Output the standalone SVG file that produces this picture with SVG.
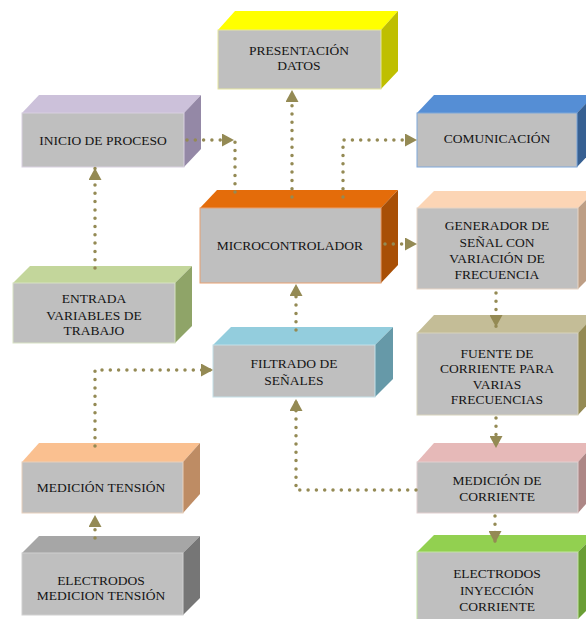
<svg xmlns="http://www.w3.org/2000/svg" width="586" height="619" viewBox="0 0 586 619" font-family="'Liberation Serif', 'Times New Roman', 'DejaVu Serif', serif">
<style>
.front{fill:#BFBFBF;stroke-width:1}
text{font-family:'Liberation Serif','Times New Roman','DejaVu Serif',serif;font-size:13.5px;fill:#141414;text-anchor:middle}
.c{fill:none;stroke:#948A54;stroke-width:3.5;stroke-linecap:round;stroke-dasharray:0 8.3}
</style>
<defs>
<marker id="ah" markerUnits="userSpaceOnUse" markerWidth="13" markerHeight="13" refX="12" refY="6.5" orient="auto">
<path d="M0,0 L12,6.5 L0,13 z" fill="#948A54"/>
</marker>
</defs>
<rect width="586" height="619" fill="#fff"/>

<g id="presentacion">
<polygon points="218,30 235,11 398,11 381,30" fill="#FFFF00"/>
<polygon points="381,30 398,11 398,71 381,89" fill="#BFBF00"/>
<rect class="front" x="218" y="30" width="163" height="59" stroke="#E6E6A0"/>
<text x="299" y="55">PRESENTACIÓN</text>
<text x="299" y="70">DATOS</text>
</g>

<g id="inicio">
<polygon points="22,113 39,95 201,95 184,113" fill="#CCC1DA"/>
<polygon points="184,113 201,95 201,149 184,167" fill="#9488A6"/>
<rect class="front" x="22" y="113" width="162" height="54" stroke="#D8D0E0"/>
<text x="103" y="145">INICIO DE PROCESO</text>
</g>

<g id="comunicacion">
<polygon points="417,113 434,95 594,95 577,113" fill="#558ED5"/>
<polygon points="577,113 594,95 594,149 577,167" fill="#376092"/>
<rect class="front" x="417" y="113" width="160" height="54" stroke="#7FA7DA"/>
<text x="497" y="143">COMUNICACIÓN</text>
</g>

<g id="microcontrolador">
<polygon points="200,208 217,190 398,190 381,208" fill="#E46C0A"/>
<polygon points="381,208 398,190 398,265 381,283" fill="#A84F06"/>
<rect class="front" x="200" y="208" width="181" height="75" stroke="#E8A070"/>
<text x="290" y="250">MICROCONTROLADOR</text>
</g>

<g id="generador">
<polygon points="417,208 434,191 595,191 578,208" fill="#FCD5B5"/>
<polygon points="578,208 595,191 595,272 578,289" fill="#BD9E85"/>
<rect class="front" x="417" y="208" width="161" height="81" stroke="#E8D5C5"/>
<text x="497" y="230">GENERADOR  DE</text>
<text x="497" y="247">SEÑAL CON</text>
<text x="497" y="263">VARIACIÓN DE</text>
<text x="497" y="279">FRECUENCIA</text>
</g>

<g id="entrada">
<polygon points="13,283 30,266 192,266 175,283" fill="#C3D69B"/>
<polygon points="175,283 192,266 192,326 175,343" fill="#8FA468"/>
<rect class="front" x="13" y="283" width="162" height="60" stroke="#D8E2C4"/>
<text x="94" y="303">ENTRADA</text>
<text x="94" y="320">VARIABLES DE</text>
<text x="94" y="335">TRABAJO</text>
</g>

<g id="filtrado">
<polygon points="213,345 231,327 393,327 375,345" fill="#93CDDD"/>
<polygon points="375,345 393,327 393,379 375,397" fill="#6699A8"/>
<rect class="front" x="213" y="345" width="162" height="52" stroke="#C4E0E8"/>
<text x="294" y="368">FILTRADO DE</text>
<text x="294" y="385">SEÑALES</text>
</g>

<g id="fuente">
<polygon points="417,333 434,315 595,315 578,333" fill="#C4BD97"/>
<polygon points="578,333 595,315 595,397 578,415" fill="#948A54"/>
<rect class="front" x="417" y="333" width="161" height="82" stroke="#D8D3BC"/>
<text x="497" y="358">FUENTE DE</text>
<text x="497" y="373">CORRIENTE PARA</text>
<text x="497" y="389">VARIAS</text>
<text x="497" y="404">FRECUENCIAS</text>
</g>

<g id="medicion_tension">
<polygon points="22,462 39,443 200,443 183,462" fill="#FAC090"/>
<polygon points="183,462 200,443 200,494 183,513" fill="#BE8C64"/>
<rect class="front" x="22" y="462" width="161" height="51" stroke="#E8D0BC"/>
<text x="101" y="492">MEDICIÓN TENSIÓN</text>
</g>

<g id="medicion_corriente">
<polygon points="417,462 434,443 595,443 578,462" fill="#E6B9B8"/>
<polygon points="578,462 595,443 595,494 578,513" fill="#AD8786"/>
<rect class="front" x="417" y="462" width="161" height="51" stroke="#E2CFCF"/>
<text x="497" y="485">MEDICIÓN DE</text>
<text x="497" y="501">CORRIENTE</text>
</g>

<g id="electrodos_medicion">
<polygon points="22,553 39,536 200,536 183,553" fill="#A6A6A6"/>
<polygon points="183,553 200,536 200,598 183,615" fill="#767676"/>
<rect class="front" x="22" y="553" width="161" height="62" stroke="#D0D0D0"/>
<text x="101" y="585">ELECTRODOS</text>
<text x="101" y="600">MEDICION TENSIÓN</text>
</g>

<g id="electrodos_inyeccion">
<polygon points="417,552 434,535 595,535 578,552" fill="#92D050"/>
<polygon points="578,552 595,535 595,602 578,619" fill="#6A9E35"/>
<rect class="front" x="417" y="552" width="161" height="70" stroke="#C4E4A4"/>
<text x="497" y="578">ELECTRODOS</text>
<text x="497" y="595">INYECCIÓN</text>
<text x="497" y="611">CORRIENTE</text>
</g>

<g id="connectors">
<path class="c" d="M187,140 H234" marker-end="url(#ah)"/>
<path class="c" d="M235,192 V142"/>
<path class="c" d="M292,197 V90" marker-end="url(#ah)"/>
<path class="c" d="M343,197 V140 H417" marker-end="url(#ah)"/>
<path class="c" d="M385,244 H417" marker-end="url(#ah)"/>
<path class="c" d="M496,293 V327" marker-end="url(#ah)"/>
<path class="c" d="M496,418 V448" marker-end="url(#ah)"/>
<path class="c" d="M495,516 V543" marker-end="url(#ah)"/>
<path class="c" d="M416,490 H296 V399" marker-end="url(#ah)"/>
<path class="c" d="M296,330 V284" marker-end="url(#ah)"/>
<path class="c" d="M95,446 V370 H213" marker-end="url(#ah)"/>
<path class="c" d="M95,538 V515" marker-end="url(#ah)"/>
<path class="c" d="M95,268 V168" marker-end="url(#ah)"/>
</g>
</svg>
